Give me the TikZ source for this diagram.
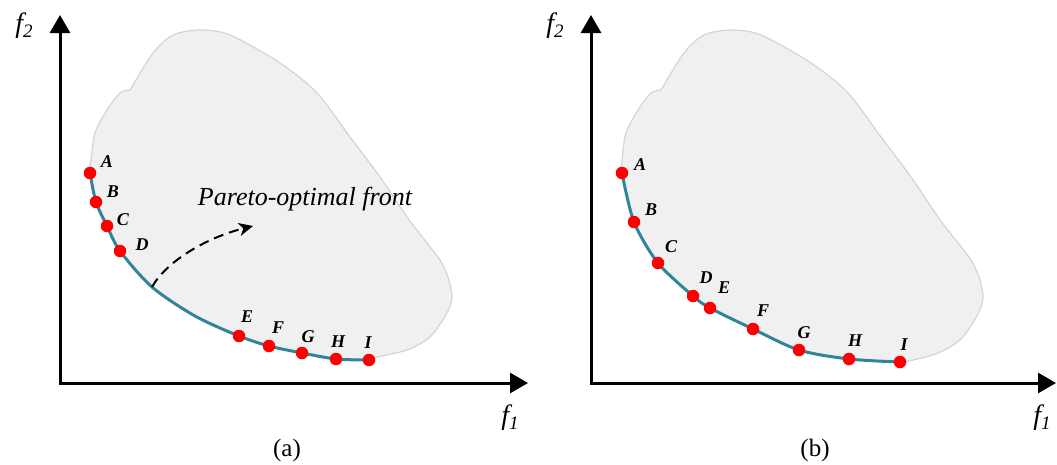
\documentclass[tikz,border=0pt]{standalone}
\usepackage{fontspec}
\setmainfont{Liberation Serif}
\usetikzlibrary{arrows.meta}
\definecolor{frontcol}{RGB}{49,132,155}
\definecolor{regfill}{RGB}{240,240,240}
\definecolor{regline}{RGB}{212,212,212}
\definecolor{dotred}{RGB}{255,0,0}
\begin{document}
\begin{tikzpicture}[x=1pt,y=-1pt,
  axis/.style={line width=3pt,line join=miter,{Triangle[length=18pt,width=20pt]}-{Triangle[length=18pt,width=20pt]}},
  region/.style={fill=regfill,draw=regline,line width=1.2pt},
  frontline/.style={draw=frontcol,line width=3pt},
  dot/.style={circle,fill=dotred,inner sep=0pt,minimum size=12.5pt},
  ptlabel/.style={font=\fontsize{18}{18}\selectfont\bfseries\itshape,inner sep=0pt},
  axlabel/.style={font=\fontsize{28}{28}\selectfont\itshape,inner sep=0pt},
  caption/.style={font=\fontsize{25}{25}\selectfont,inner sep=0pt},
  ptext/.style={font=\fontsize{26}{26}\selectfont\itshape,inner sep=0pt},
  parrow/.style={line width=2pt,dash pattern=on 10pt off 6pt,-{Stealth[length=14pt,width=13pt,inset=4pt]}}]
\useasboundingbox (0,0) rectangle (1057,464);

% ---------------- panel (a) ----------------
\foreach \n/\x/\y in {A/90/173,B/96/202,C/107/226,D/120/251,E/239/336,F/269/346,G/302/353,H/336/359,I/369/360}
  \coordinate (a\n) at (\x,\y);
\coordinate (atick) at (152,287);
\coordinate (amid) at (195,316);
\coordinate (atip) at (253,226);

\path[region] plot[smooth] coordinates {(130,90) (120,93) (107,110) (95,133) (91,160) (aA) (aB) (aC) (aD) (atick) (amid) (aE) (aF) (aG) (aH) (aI) (377,357) (407,350) (430,337) (447,313) (452,297) (448,277) (440,260) (427,243) (407,217) (380,177) (350,137) (317,93) (280,63) (230,35) (200,30) (173,35) (153,53) (130,90)} -- cycle;
\draw[frontline] plot[smooth] coordinates {(aA) (aB) (aC) (aD) (atick) (amid) (aE) (aF) (aG) (aH) (aI)};

\draw[parrow] (atick) .. controls (166,262) and (205,238) .. (atip);
\node[ptext] (apf) at (305,199) {Pareto-optimal front};

\foreach \n in {A,B,C,D,E,F,G,H,I}
  \node[dot] (da\n) at (a\n) {};
\foreach \n/\x/\y in {A/107/162,B/113/192,C/123/220,D/142/245,E/247/317,F/278/328,G/308/337,H/338/342,I/368/343}
  \node[ptlabel] (la\n) at (\x,\y) {\n};

\coordinate (aO) at (60,383);
\coordinate (aY) at (60,15);
\coordinate (aX) at (528,383);
\draw[axis] (aY) -- (aO) -- (aX);
\node[axlabel] (af2) at (24,26) {f\raisebox{-5pt}{\fontsize{19}{19}\selectfont 2}};
\node[axlabel] (af1) at (510,418) {f\raisebox{-5pt}{\fontsize{19}{19}\selectfont 1}};
\node[caption] (capa) at (287,450) {(a)};

% ---------------- panel (b) ----------------
\begin{scope}[xshift=531pt]
\foreach \n/\x/\y in {A/91/173,B/103/222,C/127/263,D/162/296,E/179/308,F/222/329,G/268/350,H/318/359,I/369/362}
  \coordinate (b\n) at (\x,\y);

\path[region] plot[smooth] coordinates {(130,90) (120,93) (107,110) (95,133) (91,160) (bA) (bB) (bC) (bD) (bE) (bF) (bG) (bH) (bI) (378,361) (407,353) (430,339) (447,314) (452,297) (448,277) (440,260) (427,243) (407,217) (380,177) (350,137) (317,93) (280,63) (230,35) (200,30) (173,35) (153,53) (130,90)} -- cycle;
\draw[frontline] plot[smooth] coordinates {(bA) (bB) (bC) (bD) (bE) (bF) (bG) (bH) (bI)};

\foreach \n in {A,B,C,D,E,F,G,H,I}
  \node[dot] (db\n) at (b\n) {};
\foreach \n/\x/\y in {A/109/165,B/120/210,C/140/247,D/175/278,E/193/288,F/232/311,G/273/333,H/324/341,I/373/345}
  \node[ptlabel] (lb\n) at (\x,\y) {\n};

\coordinate (bO) at (60,383);
\coordinate (bY) at (60,15);
\coordinate (bX) at (525,383);
\draw[axis] (bY) -- (bO) -- (bX);
\node[axlabel] (bf2) at (24,26) {f\raisebox{-5pt}{\fontsize{19}{19}\selectfont 2}};
\node[axlabel] (bf1) at (511,418) {f\raisebox{-5pt}{\fontsize{19}{19}\selectfont 1}};
\node[caption] (capb) at (284,450) {(b)};
\end{scope}
\end{tikzpicture}
\end{document}
